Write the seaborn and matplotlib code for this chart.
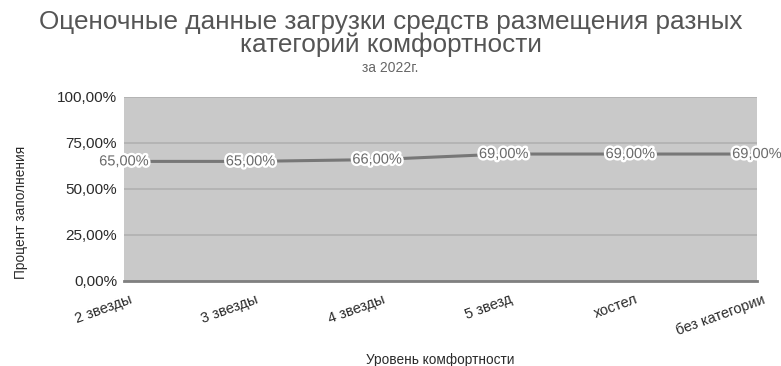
import matplotlib
matplotlib.use('Agg')
import matplotlib.pyplot as plt
import matplotlib.patheffects as pe
import matplotlib.transforms as mtransforms
from matplotlib.ticker import FuncFormatter
import seaborn as sns
import pandas as pd

categories = ['2 звезды', '3 звезды', '4 звезды', '5 звезд', 'хостел', 'без категории']
values = [65.0, 65.0, 66.0, 69.0, 69.0, 69.0]
y_ticks = [0, 25, 50, 75, 100]

df = pd.DataFrame({'cat': categories, 'val': values})

sns.set_style('white')
plt.rcParams['font.family'] = ['Liberation Sans', 'DejaVu Sans']

fig = plt.figure(figsize=(7.81, 3.66), dpi=100)
ax = fig.add_axes([124 / 781, 1 - 281 / 366, 633 / 781, 184 / 366])
ax.set_facecolor('#c9c9c9')

sns.lineplot(data=df, x='cat', y='val', sort=False, color='#777777', linewidth=2.2, ax=ax, zorder=3)

ax.set_xlim(0, len(categories) - 1)
ax.set_ylim(0, 100)
ax.set_yticks(y_ticks)
ax.yaxis.set_major_formatter(FuncFormatter(lambda v, p: f'{v:.2f}%'.replace('.', ',')))
ax.grid(axis='y', color='#b0b0b0', linewidth=1.2)
ax.set_axisbelow(True)
for s in ['top', 'left', 'right']:
    ax.spines[s].set_visible(False)
ax.spines['bottom'].set_color('#808080')
ax.spines['bottom'].set_linewidth(2)
ax.tick_params(axis='both', length=0, labelcolor='#2a2a2a')
ax.tick_params(axis='y', pad=5, labelsize=11)
ax.tick_params(axis='x', pad=8)
ax.set_xticks(range(len(categories)))
ax.set_xticklabels(categories, rotation=20, ha='right', va='top', rotation_mode='anchor', fontsize=10.5)
shift = mtransforms.ScaledTranslation(5 / 100, 0, fig.dpi_scale_trans)
for lab in ax.get_xticklabels():
    lab.set_transform(lab.get_transform() + shift)

# подписи значений с белым контуром
for i, v in enumerate(values):
    ax.text(i, v, f'{v:.2f}%'.replace('.', ','), ha='center', va='center', fontsize=10.5,
            color='#6a6a6a', zorder=4, clip_on=False,
            path_effects=[pe.withStroke(linewidth=3.5, foreground='white')])

ax.set_xlabel('Уровень комфортности', fontsize=9.8, color='#2a2a2a')
ax.xaxis.set_label_coords(0.5, -0.39)
ax.set_ylabel('Процент заполнения', fontsize=9.8, color='#2a2a2a')
ax.yaxis.set_label_coords(-0.152, 0.375)

fig.text(0.5, 1 - 22 / 366, 'Оценочные данные загрузки средств размещения разных',
         ha='center', va='center', fontsize=18.8, color='#555555')
fig.text(0.5, 1 - 45 / 366, 'категорий комфортности',
         ha='center', va='center', fontsize=18.8, color='#555555')
fig.text(0.5, 1 - 68 / 366, 'за 2022г.', ha='center', va='center', fontsize=10, color='#666666')

fig.savefig('out.png', dpi=100)
